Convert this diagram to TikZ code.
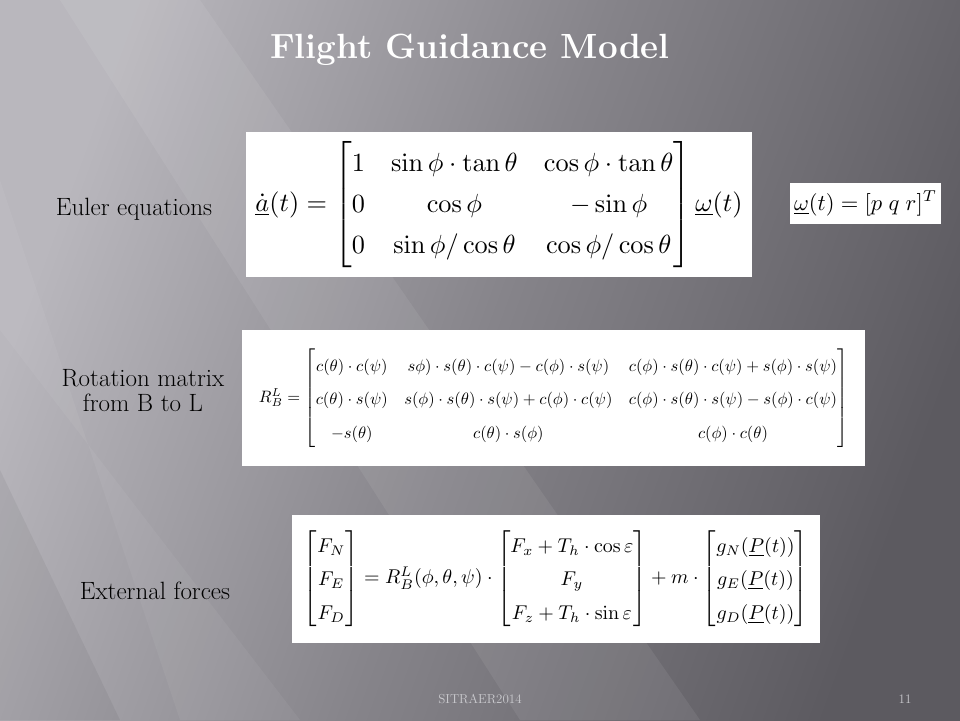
\documentclass[tikz,border=0pt]{standalone}
\usepackage{amsmath}
\usepackage{amssymb}
\usepackage{graphicx}
\usepackage{tikz}
\usetikzlibrary{shapes}

\definecolor{bgLight}{HTML}{B9B7BD}
\definecolor{bgMid}{HTML}{86848A}
\definecolor{bgDark}{HTML}{5C5A60}
\definecolor{footGray}{HTML}{CACACE}

\begin{document}
\begin{tikzpicture}[x=1pt,y=-1pt,line join=bevel,
  lbl/.style={font=\fontsize{25}{25}\selectfont,text=black,align=center},
  eqbox/.style={fill=white,draw=none,inner sep=0pt},
  foot/.style={font=\fontsize{13}{15}\selectfont,text=footGray}]
%%
\useasboundingbox (0,0) rectangle (960,720);
\shade[left color=bgLight,right color=bgDark,middle color=bgMid,shading angle=70] (0,0) rectangle (960,720);
\fill[white,opacity=0.07] (60,0) -- (200,0) -- (700,720) -- (520,720) -- cycle;
\fill[white,opacity=0.05] (0,180) -- (0,330) -- (300,720) -- (180,720) -- cycle;
\fill[black,opacity=0.05] (0,470) -- (0,720) -- (120,720) -- cycle;
%%
\node (node_title) at (470,50) [font=\fontsize{35}{40}\selectfont\bfseries,text=white] {Flight Guidance Model};
  \node (node_euler_lbl) at (134,209) [lbl] {Euler equations};
  \node (node_rot_lbl) at (143,391) [lbl] {Rotation matrix\\from B to L};
  \node (node_ext_lbl) at (155,591) [lbl] {External forces};
  \node (node_euler_eq) at (499,204.5) [eqbox,minimum width=506pt,minimum height=145pt]
    {\resizebox{487pt}{!}{$\renewcommand{\arraystretch}{1.3}\underline{\dot{a}}(t)=\begin{bmatrix}1 & \sin\phi\cdot\tan\theta & \cos\phi\cdot\tan\theta\\ 0 & \cos\phi & -\sin\phi\\ 0 & \sin\phi/\cos\theta & \cos\phi/\cos\theta\end{bmatrix}\underline{\omega}(t)$}};
  \node (node_omega_eq) at (865.5,203.5) [eqbox,minimum width=151pt,minimum height=41pt]
    {\resizebox{143pt}{!}{$\underline{\omega}(t)=[p\;q\;r]^T$}};
  \node (node_rot_eq) at (553.5,398) [eqbox,minimum width=623pt,minimum height=136pt]
    {\resizebox{589pt}{!}{$\renewcommand{\arraystretch}{1.7}R_B^L=\begin{bmatrix}c(\theta)\cdot c(\psi) & s\phi)\cdot s(\theta)\cdot c(\psi)-c(\phi)\cdot s(\psi) & c(\phi)\cdot s(\theta)\cdot c(\psi)+s(\phi)\cdot s(\psi)\\ c(\theta)\cdot s(\psi) & s(\phi)\cdot s(\theta)\cdot s(\psi)+c(\phi)\cdot c(\psi) & c(\phi)\cdot s(\theta)\cdot s(\psi)-s(\phi)\cdot c(\psi)\\ -s(\theta) & c(\theta)\cdot s(\phi) & c(\phi)\cdot c(\theta)\end{bmatrix}$}};
  \node (node_ext_eq) at (556,579) [eqbox,minimum width=528pt,minimum height=128pt]
    {\resizebox{504pt}{!}{$\renewcommand{\arraystretch}{1.4}\begin{bmatrix}F_N\\ F_E\\ F_D\end{bmatrix}=R_B^L(\phi,\theta,\psi)\cdot\begin{bmatrix}F_x+T_h\cdot\cos\varepsilon\\ F_y\\ F_z+T_h\cdot\sin\varepsilon\end{bmatrix}+m\cdot\begin{bmatrix}g_N(\underline{P}(t))\\ g_E(\underline{P}(t))\\ g_D(\underline{P}(t))\end{bmatrix}$}};
  \node (node_foot) at (480,699) [foot] {SITRAER2014};
  \node (node_page) at (905,699) [foot] {11};
%
\end{tikzpicture}
\end{document}
